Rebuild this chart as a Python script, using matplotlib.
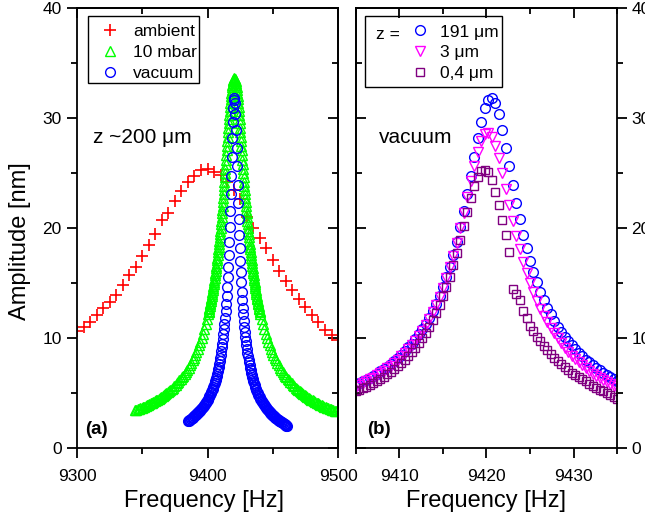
import matplotlib
matplotlib.use("Agg")
import matplotlib.pyplot as plt
from matplotlib.patches import Rectangle
from matplotlib.ticker import MultipleLocator

plt.rcParams['font.family'] = ['Liberation Sans', 'DejaVu Sans']

# ---- panel (a): z ~200 um, three pressures ----
ambient_f = [9300, 9305, 9310, 9315, 9320, 9325, 9330, 9335, 9340, 9345,
             9350, 9355, 9360, 9365, 9370, 9375, 9380, 9385, 9390, 9395,
             9400, 9405, 9410, 9415, 9420, 9425, 9430, 9435, 9440, 9445,
             9450, 9455, 9460, 9465, 9470, 9475, 9480, 9485, 9490, 9495, 9500]
ambient_a = [10.6, 11.0, 11.5, 12.1, 12.7, 13.3, 13.9, 14.8, 15.7, 16.5,
             17.5, 18.5, 19.5, 20.7, 21.4, 22.5, 23.4, 24.2, 24.7, 25.3,
             25.4, 25.1, 24.8, 24.2, 23.5, 22.6, 21.0, 20.0, 19.1, 18.2,
             17.1, 16.1, 15.2, 14.35, 13.55, 12.8, 12.1, 11.5, 10.75, 10.3, 9.8]

mbar10_f = [9344.5, 9345.5, 9346.5, 9347.5, 9348.5, 9349.5, 9350.5, 9351.5, 9352.5, 9353.5,
            9354.5, 9355.5, 9356.5, 9357.5, 9358.5, 9359.5, 9360.5, 9361.5, 9362.5, 9363.5,
            9364.5, 9365.5, 9366.5, 9367.5, 9368.5, 9369.5, 9370.5, 9371.5, 9372.5, 9373.5,
            9374.5, 9375.5, 9376.5, 9377.5, 9378.5, 9379.5, 9380.5, 9381.5, 9382.5, 9383.5,
            9384.5, 9385.5, 9386.5, 9387.5, 9388.5, 9389.5, 9390.5, 9391.5, 9392.5, 9393.5,
            9394.5, 9395.5, 9396.5, 9397.5, 9398.5, 9399.5,
            9400.5, 9400.75, 9401.0, 9401.25, 9401.5, 9401.75, 9402.0, 9402.25,
            9402.5, 9402.75, 9403.0, 9403.25, 9403.5, 9403.75, 9404.0, 9404.25,
            9404.5, 9404.75, 9405.0, 9405.25, 9405.5, 9405.75, 9406.0, 9406.25,
            9406.5, 9406.75, 9407.0, 9407.25, 9407.5, 9407.75, 9408.0, 9408.25,
            9408.5, 9408.75, 9409.0, 9409.25, 9409.5, 9409.75, 9410.0, 9410.25,
            9410.5, 9410.75, 9411.0, 9411.25, 9411.5, 9411.75, 9412.0, 9412.25,
            9412.5, 9412.75, 9413.0, 9413.25, 9413.5, 9413.75, 9414.0, 9414.25,
            9414.5, 9414.75, 9415.0, 9415.25, 9415.5, 9415.75, 9416.0, 9416.25,
            9416.5, 9416.75, 9417.0, 9417.25, 9417.5, 9417.75, 9418.0, 9418.25,
            9418.5, 9418.75, 9419.0, 9419.25, 9419.5, 9419.75, 9420.0, 9420.25,
            9420.5, 9420.75, 9421.0, 9421.25, 9421.5, 9421.75, 9422.0, 9422.25,
            9422.5, 9422.75, 9423.0, 9423.25, 9423.5, 9423.75, 9424.0, 9424.25,
            9424.5, 9424.75, 9425.0, 9425.25, 9425.5, 9425.75, 9426.0, 9426.25,
            9426.5, 9426.75, 9427.0, 9427.25, 9427.5, 9427.75, 9428.0, 9428.25,
            9428.5, 9428.75, 9429.0, 9429.25, 9429.5, 9429.75, 9430.0, 9430.25,
            9430.5, 9430.75, 9431.0, 9431.25, 9431.5, 9431.75, 9432.0, 9432.25,
            9432.5, 9432.75, 9433.0, 9433.25, 9433.5, 9433.75, 9434.0, 9434.25,
            9434.5, 9434.75, 9435.0, 9435.25, 9435.5, 9435.75, 9436.0, 9436.25,
            9436.5, 9436.75, 9437.0, 9437.25, 9437.5, 9437.75, 9438.0, 9438.25,
            9438.5, 9438.75, 9439.0, 9439.25, 9439.5, 9439.75, 9440.0, 9440.25,
            9440.5,
            9441.5, 9442.5, 9443.5, 9444.5, 9445.5, 9446.5, 9447.5, 9448.5, 9449.5, 9450.5,
            9451.5, 9452.5, 9453.5, 9454.5, 9455.5, 9456.5, 9457.5, 9458.5, 9459.5, 9460.5,
            9461.5, 9462.5, 9463.5, 9464.5, 9465.5, 9466.5, 9467.5, 9468.5, 9469.5, 9470.5,
            9471.5, 9472.5, 9473.5, 9474.5, 9475.5, 9476.5, 9477.5, 9478.5, 9479.5, 9480.5,
            9481.5, 9482.5, 9483.5, 9484.5, 9485.5, 9486.5, 9487.5, 9488.5, 9489.5, 9490.5,
            9491.5, 9492.5, 9493.5, 9494.5, 9495.5, 9496.5, 9497.5, 9498.5]
mbar10_a = [3.43, 3.48, 3.52, 3.57, 3.62, 3.67, 3.72, 3.77, 3.83, 3.89,
            3.94, 4.00, 4.07, 4.13, 4.19, 4.26, 4.33, 4.40, 4.48, 4.56,
            4.64, 4.72, 4.80, 4.89, 4.98, 5.08, 5.18, 5.28, 5.39, 5.50,
            5.62, 5.74, 5.87, 6.00, 6.14, 6.28, 6.43, 6.59, 6.76, 6.93,
            7.12, 7.31, 7.51, 7.73, 7.96, 8.20, 8.46, 8.73, 9.02, 9.33,
            9.66, 10.01, 10.39, 10.79, 11.23, 11.70,
            12.21, 12.34, 12.48, 12.62, 12.76, 12.91, 13.05, 13.21,
            13.36, 13.52, 13.68, 13.84, 14.01, 14.19, 14.36, 14.54,
            14.72, 14.91, 15.10, 15.30, 15.50, 15.71, 15.92, 16.13,
            16.35, 16.58, 16.81, 17.05, 17.29, 17.54, 17.79, 18.05,
            18.31, 18.58, 18.86, 19.15, 19.44, 19.73, 20.04, 20.35,
            20.67, 20.99, 21.32, 21.66, 22.01, 22.36, 22.72, 23.08,
            23.46, 23.84, 24.22, 24.61, 25.01, 25.41, 25.81, 26.22,
            26.63, 27.05, 27.46, 27.88, 28.29, 28.70, 29.11, 29.51,
            29.90, 30.28, 30.66, 31.02, 31.36, 31.69, 32.00, 32.29,
            32.55, 32.79, 33.00, 33.18, 33.33, 33.45, 33.53, 33.59,
            33.60, 33.59, 33.53, 33.45, 33.33, 33.18, 33.00, 32.79,
            32.55, 32.29, 32.00, 31.69, 31.36, 31.02, 30.66, 30.28,
            29.90, 29.51, 29.11, 28.70, 28.29, 27.88, 27.46, 27.05,
            26.63, 26.22, 25.81, 25.41, 25.01, 24.61, 24.22, 23.84,
            23.46, 23.08, 22.72, 22.36, 22.01, 21.66, 21.32, 20.99,
            20.67, 20.35, 20.04, 19.73, 19.44, 19.15, 18.86, 18.58,
            18.31, 18.05, 17.79, 17.54, 17.29, 17.05, 16.81, 16.58,
            16.35, 16.13, 15.92, 15.71, 15.50, 15.30, 15.10, 14.91,
            14.72, 14.54, 14.36, 14.19, 14.01, 13.84, 13.68, 13.52,
            13.36, 13.21, 13.05, 12.91, 12.76, 12.62, 12.48, 12.34,
            12.21,
            11.70, 11.23, 10.79, 10.39, 10.01, 9.66, 9.33, 9.02, 8.73, 8.46,
            8.20, 7.96, 7.73, 7.51, 7.31, 7.12, 6.93, 6.76, 6.59, 6.43,
            6.28, 6.14, 6.00, 5.87, 5.74, 5.62, 5.50, 5.39, 5.28, 5.18,
            5.08, 4.98, 4.89, 4.80, 4.72, 4.64, 4.56, 4.48, 4.40, 4.33,
            4.26, 4.19, 4.13, 4.07, 4.00, 3.94, 3.89, 3.83, 3.77, 3.72,
            3.67, 3.62, 3.57, 3.52, 3.48, 3.43, 3.39, 3.34]

# vacuum tails that lie outside the window of panel (b)
vac_low_f = [9385.0, 9385.5, 9386.0, 9386.5, 9387.0, 9387.5, 9388.0, 9388.5, 9389.0, 9389.5,
             9390.0, 9390.5, 9391.0, 9391.5, 9392.0, 9392.5, 9393.0, 9393.5, 9394.0, 9394.5,
             9395.0, 9395.5, 9396.0, 9396.5, 9397.0, 9397.5, 9398.0, 9398.5, 9399.0, 9399.5,
             9400.0, 9400.5, 9401.0, 9401.5, 9402.0, 9402.5, 9403.0, 9403.5, 9404.0, 9404.5]
vac_low_a = [2.42, 2.47, 2.52, 2.57, 2.62, 2.67, 2.72, 2.77, 2.82, 2.87,
             2.92, 2.98, 3.03, 3.09, 3.14, 3.20, 3.26, 3.32, 3.38, 3.46,
             3.53, 3.60, 3.67, 3.75, 3.83, 3.91, 4.00, 4.09, 4.18, 4.28,
             4.38, 4.49, 4.60, 4.72, 4.84, 4.97, 5.11, 5.26, 5.41, 5.58]
vac_high_f = [9435.5, 9436.0, 9436.5, 9437.0, 9437.5, 9438.0, 9438.5, 9439.0, 9439.5, 9440.0,
              9440.5, 9441.0, 9441.5, 9442.0, 9442.5, 9443.0, 9443.5, 9444.0, 9444.5, 9445.0,
              9445.5, 9446.0, 9446.5, 9447.0, 9447.5, 9448.0, 9448.5, 9449.0, 9449.5, 9450.0,
              9450.5, 9451.0, 9451.5, 9452.0, 9452.5, 9453.0, 9453.5, 9454.0, 9454.5, 9455.0,
              9455.5, 9456.0, 9456.5, 9457.0, 9457.5, 9458.0, 9458.5, 9459.0, 9459.5, 9460.0,
              9460.5, 9461.0]
vac_high_a = [5.94, 5.75, 5.58, 5.41, 5.26, 5.11, 4.97, 4.84, 4.72, 4.60,
              4.49, 4.38, 4.28, 4.18, 4.09, 4.00, 3.91, 3.83, 3.75, 3.67,
              3.59, 3.50, 3.42, 3.35, 3.28, 3.22, 3.16, 3.10, 3.04, 2.98,
              2.92, 2.87, 2.81, 2.76, 2.71, 2.66, 2.61, 2.57, 2.52, 2.48,
              2.44, 2.40, 2.36, 2.32, 2.28, 2.24, 2.20, 2.16, 2.12, 2.08,
              2.04, 2.00]

# ---- panel (b): vacuum, three tip distances ----
freq_b = [9405.0, 9405.4, 9405.8, 9406.2, 9406.6, 9407.0, 9407.4, 9407.8, 9408.2, 9408.6,
          9409.0, 9409.4, 9409.8, 9410.2, 9410.6, 9411.0, 9411.4, 9411.8, 9412.2, 9412.6,
          9413.0, 9413.4, 9413.8, 9414.2, 9414.6, 9415.0, 9415.4, 9415.8, 9416.2, 9416.6,
          9417.0, 9417.4, 9417.8, 9418.2, 9418.6, 9419.0, 9419.4, 9419.8, 9420.2, 9420.6,
          9421.0, 9421.4, 9421.8, 9422.2, 9422.6, 9423.0, 9423.4, 9423.8, 9424.2, 9424.6,
          9425.0, 9425.4, 9425.8, 9426.2, 9426.6, 9427.0, 9427.4, 9427.8, 9428.2, 9428.6,
          9429.0, 9429.4, 9429.8, 9430.2, 9430.6, 9431.0, 9431.4, 9431.8, 9432.2, 9432.6,
          9433.0, 9433.4, 9433.8, 9434.2, 9434.6, 9435.0]
z191_a = [5.75, 5.90, 6.05, 6.22, 6.39, 6.57, 6.76, 6.96, 7.18, 7.41,
          7.65, 7.91, 8.19, 8.48, 8.80, 9.14, 9.50, 9.90, 10.33, 10.79,
          11.30, 11.85, 12.45, 13.11, 13.83, 14.63, 15.51, 16.49, 17.57, 18.76,
          20.08, 21.52, 23.08, 24.75, 26.46, 28.15, 29.67, 30.89, 31.63, 31.79,
          31.33, 30.33, 28.94, 27.31, 25.60, 23.91, 22.29, 20.79, 19.41, 18.15,
          17.02, 15.99, 15.06, 14.22, 13.46, 12.77, 12.14, 11.57, 11.04, 10.55,
          10.11, 9.70, 9.32, 8.96, 8.64, 8.33, 8.04, 7.78, 7.53, 7.29,
          7.07, 6.86, 6.66, 6.48, 6.30, 6.13]
z3_a = [5.59, 5.74, 5.89, 6.05, 6.23, 6.41, 6.60, 6.80, 7.02, 7.24,
        7.49, 7.75, 8.03, 8.32, 8.64, 8.99, 9.36, 9.76, 10.19, 10.66,
        11.17, 11.73, 12.34, 13.01, 13.74, 14.55, 15.44, 16.42, 17.50, 18.68,
        19.96, 21.33, 22.78, 24.25, 25.67, 26.95, 27.95, 28.56, 28.68, 28.31,
        27.49, 26.33, 24.97, 23.51, 22.05, 20.63, 19.31, 18.08, 16.95, 15.92,
        14.99, 14.14, 13.37, 12.67, 12.03, 11.44, 10.91, 10.42, 9.97, 9.55,
        9.10, 8.74, 8.40, 8.08, 7.78, 7.51, 7.24, 7.00, 6.77, 6.55,
        6.34, 6.15, 5.96, 5.78, 5.61, 5.45]
z04_a = [5.14, 5.28, 5.42, 5.58, 5.74, 5.91, 6.09, 6.28, 6.49, 6.71,
         6.94, 7.19, 7.45, 7.74, 8.04, 8.37, 8.73, 9.12, 9.54, 9.99,
         10.49, 11.03, 11.62, 12.28, 12.99, 13.78, 14.64, 15.59, 16.63, 17.75,
         18.95, 20.21, 21.49, 22.71, 23.81, 24.67, 25.19, 25.30, 25.1, 24.4,
         23.3, 22.1, 20.7, 19.4, 17.8, 14.5, 14.0, 13.5, 12.5, 11.8,
         11.1, 10.6, 10.1, 9.7, 9.3, 8.9, 8.55, 8.2, 7.9, 7.6,
         7.35, 7.1, 6.85, 6.65, 6.45, 6.25, 6.05, 5.85, 5.65, 5.5,
         5.3, 5.15, 5.0, 4.85, 4.65, 4.45]

# the 191 um curve is the vacuum curve of panel (a)
vac_f = vac_low_f + freq_b + vac_high_f
vac_a = vac_low_a + z191_a + vac_high_a

FS_TICK = 12.5
FS_LABEL = 17
LW = 1.3

fig = plt.figure(figsize=(6.45, 5.24), dpi=100)
ax1 = fig.add_axes([0.1194, 0.1450, 0.4047, 0.8397])
ax2 = fig.add_axes([0.5519, 0.1450, 0.4047, 0.8397])

ax1.plot(ambient_f, ambient_a, ls='none', marker='+', color='#ff0000', ms=8, mew=1.2, label='ambient')
ax1.plot(mbar10_f, mbar10_a, ls='none', marker='^', mec='#00ff00', mfc='none', ms=7, mew=1.0, label='10 mbar')
ax1.plot(vac_f, vac_a, ls='none', marker='o', mec='#0000ff', mfc='none', ms=7, mew=1.0, label='vacuum')

ax2.plot(freq_b, z191_a, ls='none', marker='o', mec='#0000ff', mfc='none', ms=7, mew=1.0, label='191 μm')
ax2.plot(freq_b, z3_a, ls='none', marker='v', mec='#ff00ff', mfc='none', ms=7, mew=1.0, label='3 μm')
ax2.plot(freq_b, z04_a, ls='none', marker='s', mec='#800080', mfc='none', ms=6, mew=1.0, label='0,4 μm')

ax1.set_xlim(9300, 9500)
ax2.set_xlim(9405, 9435)
ax1.xaxis.set_major_locator(MultipleLocator(100))
ax1.xaxis.set_minor_locator(MultipleLocator(50))
ax2.xaxis.set_major_locator(MultipleLocator(10))
ax2.xaxis.set_minor_locator(MultipleLocator(5))

for ax in (ax1, ax2):
    ax.set_ylim(0, 40)
    ax.yaxis.set_major_locator(MultipleLocator(10))
    ax.yaxis.set_minor_locator(MultipleLocator(5))
    for s in ax.spines.values():
        s.set_linewidth(LW)
    ax.tick_params(which='major', direction='out', length=7, width=LW, labelsize=FS_TICK)
    ax.tick_params(which='minor', direction='out', length=4.5, width=LW)
    ax.tick_params(axis='x', which='both', pad=8)
    ax.set_xlabel('Frequency [Hz]', fontsize=FS_LABEL)

ax1.tick_params(axis='y', which='both', pad=4)
ax2.yaxis.tick_right()
ax2.tick_params(axis='y', which='both', pad=3.5)

# inward ticks on the opposite sides
for ax, loc in ((ax1, 'top'), (ax2, 'top')):
    sec = ax.secondary_xaxis(loc)
    sec.xaxis.set_major_locator(ax.xaxis.get_major_locator())
    sec.xaxis.set_minor_locator(ax.xaxis.get_minor_locator())
    sec.tick_params(which='major', direction='in', length=7, width=LW, labeltop=False)
    sec.tick_params(which='minor', direction='in', length=4.5, width=LW)
    sec.spines['top'].set_linewidth(LW)
for ax, loc in ((ax1, 'right'), (ax2, 'left')):
    sec = ax.secondary_yaxis(loc)
    sec.yaxis.set_major_locator(MultipleLocator(10))
    sec.yaxis.set_minor_locator(MultipleLocator(5))
    sec.tick_params(which='major', direction='in', length=7, width=LW,
                    labelleft=False, labelright=False)
    sec.tick_params(which='minor', direction='in', length=4.5, width=LW)
    sec.spines[loc].set_linewidth(LW)

ax1.set_ylabel('Amplitude [nm]', fontsize=FS_LABEL)
ax1.yaxis.set_label_coords(-0.176, 0.47)
ax1.xaxis.set_label_coords(0.485, -0.095)
ax2.xaxis.set_label_coords(0.5, -0.095)

# legends with square frames
leg1 = ax1.legend(loc='upper left', bbox_to_anchor=(0.0797, 0.9716), frameon=False,
                  fontsize=FS_TICK, handlelength=1.0, handletextpad=0.82,
                  borderpad=0.2, labelspacing=0.33, borderaxespad=0)
ax1.add_patch(Rectangle((0.0421, 0.8295), 0.425, 0.1523, transform=ax1.transAxes,
                        fill=False, ec='black', lw=1.0, clip_on=False, zorder=5))

leg2 = ax2.legend(loc='upper left', bbox_to_anchor=(0.1985, 0.9707), frameon=False,
                  fontsize=FS_TICK, handlelength=1.0, handletextpad=0.65,
                  borderpad=0.2, labelspacing=0.33, borderaxespad=0)
ax2.add_patch(Rectangle((0.0345, 0.820), 0.525, 0.162, transform=ax2.transAxes,
                        fill=False, ec='black', lw=1.0, clip_on=False, zorder=5))
ax2.text(0.077, 0.940, 'z =', fontsize=FS_TICK, va='center', transform=ax2.transAxes)

ax1.text(0.061, 0.693, 'z ~200 μm', fontsize=15, va='baseline', transform=ax1.transAxes)
ax2.text(0.088, 0.693, 'vacuum', fontsize=15, va='baseline', transform=ax2.transAxes)
ax1.text(0.03, 0.043, '(a)', fontsize=13.5, fontweight='bold', va='center', transform=ax1.transAxes)
ax2.text(0.042, 0.043, '(b)', fontsize=13.5, fontweight='bold', va='center', transform=ax2.transAxes)

fig.savefig('out.png', dpi=100)
